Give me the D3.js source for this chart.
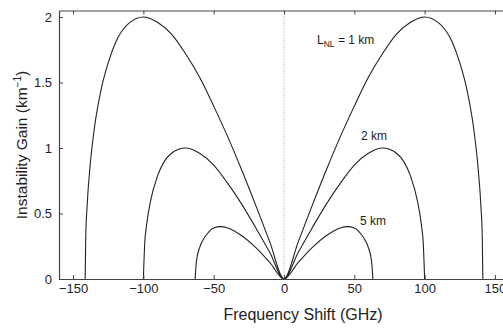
<!DOCTYPE html>
<html><head><meta charset="utf-8">
<script src="https://cdn.jsdelivr.net/npm/d3@7"></script>
<style>body{margin:0;background:#fff;} text{font-family:"Liberation Sans",Arial,sans-serif;fill:#222;}</style>
</head><body>
<svg id="c" width="503" height="329"></svg>
<script>
// Frequency shift (GHz) and instability gain (1/km)
const freq1 = [-141.4,-141,-140,-138,-135,-130,-125,-120,-110,-100,-90,-80,-70,-60,-50,-40,-30,-20,-10,0,10,20,30,40,50,60,70,80,90,100,110,120,125,130,135,138,140,141,141.4];
const gain1 = [0,0.31,0.56,0.85,1.14,1.45,1.65,1.80,1.955,2.0,1.96,1.87,1.72,1.54,1.32,1.085,0.83,0.56,0.28,0,0.28,0.56,0.83,1.085,1.32,1.54,1.72,1.87,1.96,2.0,1.955,1.80,1.65,1.45,1.14,0.85,0.56,0.31,0];
const freq2 = [-100,-99,-98,-95,-90,-85,-80,-75,-70,-60,-50,-40,-30,-20,-10,0,10,20,30,40,50,60,70,75,80,85,90,95,98,99,100];
const gain2 = [0,0.28,0.39,0.59,0.785,0.90,0.96,0.99,1.0,0.96,0.87,0.73,0.57,0.39,0.2,0,0.2,0.39,0.57,0.73,0.87,0.96,1.0,0.99,0.96,0.90,0.785,0.59,0.39,0.28,0];
const freq5 = [-63.2,-62.5,-62,-60,-58,-55,-50,-45,-40,-30,-20,-10,0,10,20,30,40,45,50,55,58,60,62,62.5,63.2];
const gain5 = [0,0.11,0.155,0.24,0.29,0.34,0.39,0.40,0.39,0.33,0.24,0.125,0,0.125,0.24,0.33,0.39,0.40,0.39,0.34,0.29,0.24,0.155,0.11,0];
const xTicks = [-150,-100,-50,0,50,100,150];
const yTicks = [0,0.5,1,1.5,2];
const curveLabels = ["= 1 km","2 km","5 km"];

const svg = d3.select("#c");
const L = 59, R = 509, T = 10.5, B = 279;
const x = d3.scaleLinear().domain([-160,160]).range([L,R]);
const y = d3.scaleLinear().domain([0,2.05]).range([B,T]);
const axCol = "#444";

// dotted zero line
svg.append("line").attr("x1",x(0)).attr("x2",x(0)).attr("y1",T).attr("y2",B)
  .attr("stroke","#999").attr("stroke-width",1).attr("stroke-dasharray","1,2");

const line = d3.line().x(d=>x(d[0])).y(d=>y(d[1])).curve(d3.curveMonotoneX);
[[freq1,gain1],[freq2,gain2],[freq5,gain5]].forEach(([f,g])=>{
  svg.append("path").datum(f.map((v,i)=>[v,g[i]])).attr("d",line)
    .attr("fill","none").attr("stroke","#222").attr("stroke-width",1.1);
});

function styleAxis(g, noText){
  g.select(".domain").attr("stroke",axCol).attr("stroke-width",1.2);
  g.selectAll(".tick line").attr("stroke",axCol);
  g.selectAll(".tick text").attr("font-size","13px").attr("fill","#222")
    .attr("font-family","'Liberation Sans',Arial,sans-serif");
  if(noText) g.selectAll(".tick text").remove();
}
const fmtX = d=> d<0 ? "\u2212"+Math.abs(d) : String(d);
styleAxis(svg.append("g").attr("transform",`translate(0,${B})`)
  .call(d3.axisBottom(x).tickValues(xTicks).tickSize(-4).tickSizeOuter(0).tickPadding(5).tickFormat(fmtX)));
styleAxis(svg.append("g").attr("transform",`translate(0,${T})`)
  .call(d3.axisTop(x).tickValues(xTicks).tickSize(-4).tickSizeOuter(0)), true);
styleAxis(svg.append("g").attr("transform",`translate(${L},0)`)
  .call(d3.axisLeft(y).tickValues(yTicks).tickSize(-4).tickSizeOuter(0).tickPadding(7).tickFormat(d3.format("~g"))));
styleAxis(svg.append("g").attr("transform",`translate(${R},0)`)
  .call(d3.axisRight(y).tickValues(yTicks).tickSize(-4).tickSizeOuter(0)), true);

// axis titles
svg.append("text").attr("x",303).attr("y",320).attr("text-anchor","middle")
  .attr("font-size","16px").text("Frequency Shift (GHz)");
const yl = svg.append("text").attr("transform",`translate(27,145) rotate(-90)`)
  .attr("text-anchor","middle").attr("font-size","15.5px");
yl.append("tspan").text("Instability Gain (km");
yl.append("tspan").attr("font-size","10px").attr("dy",-6).text("\u22121");
yl.append("tspan").attr("dy",6).text(")");

// curve labels
const t1 = svg.append("text").attr("x",317).attr("y",44).attr("font-size","12px");
t1.append("tspan").text("L");
t1.append("tspan").attr("font-size","8.5px").attr("dy",3).text("NL");
t1.append("tspan").attr("dy",-3).text(" " + curveLabels[0]);
svg.append("text").attr("x",361).attr("y",140).attr("font-size","12px").text(curveLabels[1]);
svg.append("text").attr("x",360).attr("y",225).attr("font-size","12px").text(curveLabels[2]);
</script>
</body></html>
